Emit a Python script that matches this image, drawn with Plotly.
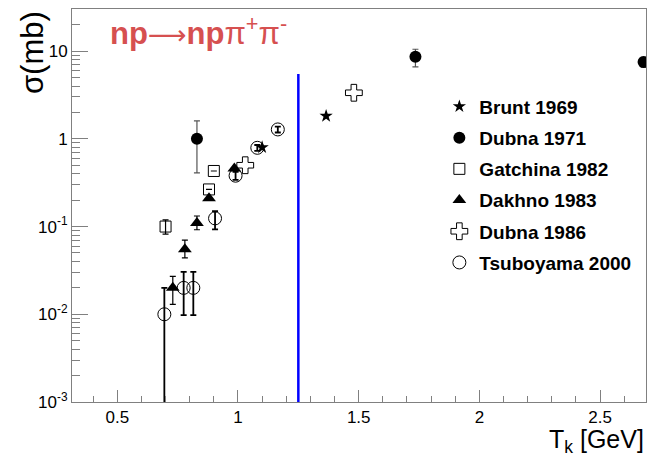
import plotly.graph_objects as go

# ---------------- data ----------------
brunt_x = [1.10, 1.365]
brunt_y = [0.80, 1.82]

dubna71_x = [0.83, 1.735, 2.68]
dubna71_y = [1.0, 8.6, 7.5]
dubna71_ep = [0.6, 1.9, 1.0]
dubna71_em = [0.59, 2.0, 1.0]

gatchina_x = [0.70, 0.88, 0.90]
gatchina_y = [0.10, 0.265, 0.43]
gatchina_ep = [0.019, 0.0, 0.0]
gatchina_em = [0.018, 0.0, 0.0]

dakhno_x = [0.73, 0.78, 0.83, 0.88, 0.985]
dakhno_y = [0.020, 0.055, 0.11, 0.21, 0.46]
dakhno_ep = [0.007, 0.015, 0.022, 0.0, 0.0]
dakhno_em = [0.007, 0.011, 0.018, 0.0, 0.0]

dubna86_x = [1.03, 1.48]
dubna86_y = [0.50, 3.35]

tsub_x = [0.695, 0.775, 0.815, 0.905, 0.99, 1.08, 1.165]
tsub_y = [0.010, 0.020, 0.020, 0.124, 0.38, 0.79, 1.28]
tsub_ep = [0.010, 0.0105, 0.0105, 0.026, 0.04, 0.06, 0.10]
tsub_em = [0.00999, 0.0102, 0.0102, 0.031, 0.04, 0.06, 0.10]

threshold_x = [1.25, 1.25]
threshold_y = [0.001, 5.5]

x_tickvals = [0.5, 1, 1.5, 2, 2.5]
x_ticktext = ["0.5", "1", "1.5", "2", "2.5"]
y_tickvals = [0.001, 0.01, 0.1, 1, 10]
y_ticktext = ["10<sup>-3</sup>", "10<sup>-2</sup>", "10<sup>-1</sup>", "1", "10"]

FONT = "Liberation Sans, Arial, Helvetica, sans-serif"
AXC = "#808080"

fig = go.Figure()

fig.add_trace(go.Scatter(
    x=threshold_x, y=threshold_y, mode="lines",
    line=dict(color="#0000ff", width=2.5), showlegend=False, hoverinfo="skip"))


def err(ep, em, th=1.2, w=3, col="black"):
    return dict(type="data", symmetric=False, array=ep, arrayminus=em,
                color=col, thickness=th, width=w)


fig.add_trace(go.Scatter(
    x=brunt_x, y=brunt_y, mode="markers", name="<b>Brunt 1969</b>",
    legendgroup="a",
    marker=dict(symbol="star", size=10, color="black")))

fig.add_trace(go.Scatter(
    x=dubna71_x, y=dubna71_y, mode="markers", name="<b>Dubna 1971</b>",
    legendgroup="b",
    error_y=err(dubna71_ep, dubna71_em, th=1.2, w=3, col="#555555"),
    marker=dict(symbol="circle", size=12, color="black")))

fig.add_trace(go.Scatter(
    x=gatchina_x, y=gatchina_y, mode="markers", name="<b>Gatchina 1982</b>",
    legendgroup="c",
    error_y=err(gatchina_ep, gatchina_em),
    marker=dict(symbol="square-open", size=11, color="black",
                line=dict(width=1, color="black"))))

fig.add_trace(go.Scatter(
    x=dakhno_x, y=dakhno_y, mode="markers", name="<b>Dakhno 1983</b>",
    legendgroup="d",
    error_y=err(dakhno_ep, dakhno_em),
    marker=dict(symbol="triangle-up", size=12, color="black")))

fig.add_trace(go.Scatter(
    x=dubna86_x, y=dubna86_y, mode="markers", name="<b>Dubna 1986</b>",
    legendgroup="e",
    marker=dict(symbol="cross-open", size=14, color="black",
                line=dict(width=1, color="black"))))

fig.add_trace(go.Scatter(
    x=tsub_x, y=tsub_y, mode="markers", name="<b>Tsuboyama 2000</b>",
    legendgroup="f",
    error_y=err(tsub_ep, tsub_em, th=1.8, w=3),
    marker=dict(symbol="circle-open", size=13, color="black",
                line=dict(width=1, color="black"))))

fig.update_layout(
    width=648, height=453,
    margin=dict(l=72, r=2, t=9, b=51),
    paper_bgcolor="white", plot_bgcolor="white",
    font=dict(family=FONT, color="black"),
    showlegend=True,
    legend=dict(x=0.64, y=0.80, xanchor="left", yanchor="top",
                bgcolor="rgba(0,0,0,0)", borderwidth=0,
                font=dict(size=19, family=FONT, color="black"),
                tracegroupgap=3.5, itemsizing="trace"),
    xaxis=dict(
        range=[0.3125, 2.69], showgrid=False, zeroline=False,
        showline=True, linecolor=AXC, linewidth=1, mirror=True,
        ticks="inside", ticklen=12, tickcolor=AXC, tickwidth=1,
        tickmode="array", tickvals=x_tickvals, ticktext=x_ticktext,
        tickfont=dict(size=17, family=FONT, color="black"),
        minor=dict(ticks="inside", ticklen=6, dtick=0.1, tick0=0,
                   tickcolor=AXC, showgrid=False),
    ),
    yaxis=dict(
        type="log", range=[-3, 1.48], showgrid=False, zeroline=False,
        showline=True, linecolor=AXC, linewidth=1, mirror=True,
        ticks="inside", ticklen=16, tickcolor=AXC, tickwidth=1,
        tickmode="array", tickvals=y_tickvals, ticktext=y_ticktext,
        tickfont=dict(size=17, family=FONT, color="black"),
        minor=dict(ticks="inside", ticklen=8, dtick="D1",
                   tickcolor=AXC, showgrid=False),
    ),
    annotations=[
        dict(text="<b>np</b><span style=\"font-family:'DejaVu Sans';font-size:27px\">\u27f6</span><b>np</b>\u03c0<sup>+</sup>\u03c0<sup>-</sup>",
             xref="paper", yref="paper", x=0.063, y=1.0,
             xanchor="left", yanchor="top", showarrow=False,
             font=dict(size=31, family=FONT, color="#d65050")),
        dict(text="\u03c3(mb)", textangle=-90,
             xref="paper", yref="paper", x=-0.07, y=0.89,
             xanchor="center", yanchor="middle", showarrow=False,
             font=dict(size=31, family=FONT, color="black")),
        dict(text="T<sub>k</sub> [GeV]",
             xref="paper", yref="paper", x=1.0, y=-0.053,
             xanchor="right", yanchor="top", showarrow=False,
             font=dict(size=25, family=FONT, color="black")),
    ],
)

fig.write_html("out.html")
